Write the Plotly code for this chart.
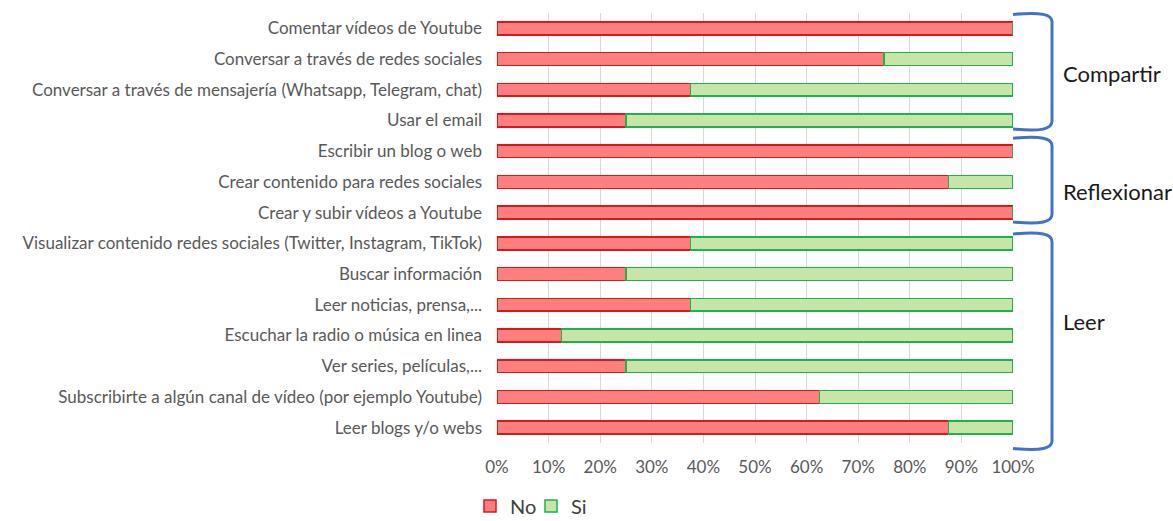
import plotly.graph_objects as go

# Activities, top to bottom
categories = [
    "Comentar vídeos de Youtube",
    "Conversar a través de redes sociales",
    "Conversar a través de mensajería (Whatsapp, Telegram, chat)",
    "Usar el email",
    "Escribir un blog o web",
    "Crear contenido para redes sociales",
    "Crear y subir vídeos a Youtube",
    "Visualizar contenido redes sociales (Twitter, Instagram, TikTok)",
    "Buscar información",
    "Leer noticias, prensa,...",
    "Escuchar la radio o música en linea",
    "Ver series, películas,...",
    "Subscribirte a algún canal de vídeo (por ejemplo Youtube)",
    "Leer blogs y/o webs",
]

# Share of answers (%)
no_values = [100, 75, 37.5, 25, 100, 87.5, 100, 37.5, 25, 37.5, 12.5, 25, 62.5, 87.5]
si_values = [0, 25, 62.5, 75, 0, 12.5, 0, 62.5, 75, 62.5, 87.5, 75, 37.5, 12.5]

x_ticks = [0, 10, 20, 30, 40, 50, 60, 70, 80, 90, 100]
x_tick_labels = [f"{v}%" for v in x_ticks]

# Groups of activities: label, first index, last index
group_labels = ["Compartir", "Reflexionar", "Leer"]
group_first = [0, 4, 7]
group_last = [3, 6, 13]

# Brace styling (in category units): overshoot above / below each group,
# and label offset from the group centre
brace_style = {
    "Compartir": dict(top=0.455, bottom=0.28, label=-0.04),
    "Reflexionar": dict(top=0.425, bottom=0.305, label=0.3),
    "Leer": dict(top=0.305, bottom=0.68, label=-0.44),
}

n = len(categories)
FONT = "Lato, 'Open Sans', sans-serif"
W, H = 1173, 521


def idx_to_paper(pos):
    # category axis spans [-0.5, n-0.5], reversed (first category on top)
    return 1 - (pos + 0.5) / n


fig = go.Figure()
fig.add_trace(go.Bar(
    y=categories, x=no_values, name="No", orientation="h",
    marker=dict(color="#FF7F7F", line=dict(color="#D7191C", width=1.5)),
))
fig.add_trace(go.Bar(
    y=categories, x=si_values, name="Si", orientation="h",
    marker=dict(color="#C6E6A8", line=dict(color="#1FB050", width=1.5)),
))

shapes = []
annotations = []
bx0, bx1 = 1.0, 1.0756
for label, i0, i1 in zip(group_labels, group_first, group_last):
    st = brace_style[label]
    top = idx_to_paper(i0 - st["top"])
    bot = idx_to_paper(i1 + st["bottom"])
    dy = 0.018
    path = (f"M {bx0},{top} C {bx1 - 0.02},{top + 0.006} {bx1},{top} {bx1},{top - dy} "
            f"L {bx1},{bot + dy} C {bx1},{bot} {bx1 - 0.02},{bot - 0.006} {bx0},{bot}")
    shapes.append(dict(type="path", xref="paper", yref="paper", path=path,
                       line=dict(color="#4472C4", width=3)))
    annotations.append(dict(
        x=1.093, y=idx_to_paper((i0 + i1) / 2 + st["label"]),
        xref="paper", yref="paper",
        text=label, showarrow=False, xanchor="left", yanchor="middle",
        font=dict(family=FONT, size=22, color="#1a1a1a"),
    ))

fig.update_layout(
    barmode="stack",
    bargap=0.58,
    width=W, height=H,
    margin=dict(l=497, r=160, t=13, b=78),
    paper_bgcolor="white", plot_bgcolor="white",
    font=dict(family=FONT, size=17, color="#595959"),
    xaxis=dict(
        range=[0, 100], tickvals=x_ticks, ticktext=x_tick_labels,
        showgrid=True, gridcolor="#D9D9D9", gridwidth=1,
        zeroline=False, showline=False, ticks="",
        ticklabelstandoff=12,
        tickfont=dict(size=17, color="#595959"),
    ),
    yaxis=dict(
        type="category", autorange="reversed", showgrid=False,
        ticks="", ticklabelstandoff=14,
        tickfont=dict(size=17, color="#595959"),
    ),
    legend=dict(
        orientation="h",
        xref="container", x=470 / W, xanchor="left",
        yref="container", y=1 - 506 / H, yanchor="middle",
        font=dict(size=20, color="#404040"), traceorder="normal",
        itemwidth=30, entrywidth=16,
    ),
    shapes=shapes,
    annotations=annotations,
)
fig.update_xaxes(automargin=False)
fig.update_yaxes(automargin=False)

fig.write_html("out.html")
